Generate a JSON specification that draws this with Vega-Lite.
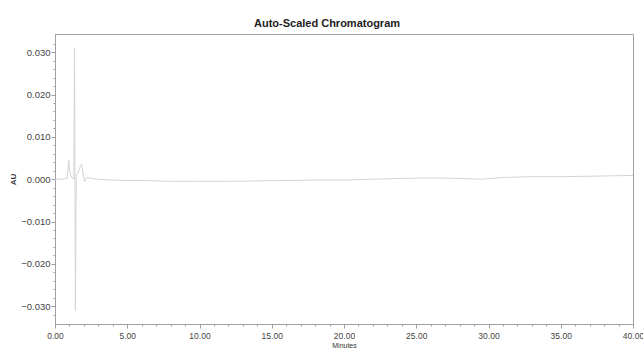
{
  "$schema": "https://vega.github.io/schema/vega-lite/v6.json",
  "width": 578,
  "height": 290,
  "autosize": {"type": "none"},
  "padding": {"left": 55, "top": 34, "right": 10, "bottom": 28},
  "background": "white",
  "title": {
    "text": "Auto-Scaled Chromatogram",
    "font": "Liberation Sans",
    "fontSize": 11,
    "fontWeight": "bold",
    "color": "#222",
    "anchor": "middle",
    "dx": -17,
    "offset": 5
  },
  "config": {
    "view": {"stroke": "#a0a0a0", "strokeWidth": 1},
    "axis": {
      "grid": false,
      "labelFont": "Liberation Sans",
      "titleFont": "Liberation Sans",
      "labelColor": "#444",
      "titleColor": "#333",
      "domainColor": "#a0a0a0",
      "tickColor": "#a0a0a0"
    }
  },
  "data": {
    "values": [
      {"t": 0, "au": 0},
      {"t": 0.5, "au": 0},
      {"t": 0.85, "au": 0.0002},
      {"t": 0.95, "au": 0.0045},
      {"t": 1.02, "au": 0.002},
      {"t": 1.12, "au": 0.0005},
      {"t": 1.3, "au": 0},
      {"t": 1.35, "au": 0.031},
      {"t": 1.41, "au": -0.031},
      {"t": 1.47, "au": 0.001},
      {"t": 1.6, "au": 0.0015},
      {"t": 1.75, "au": 0.003},
      {"t": 1.85, "au": 0.0035},
      {"t": 1.95, "au": 0.001},
      {"t": 2.05, "au": -0.0006},
      {"t": 2.2, "au": 0.0004},
      {"t": 2.5, "au": 0.0002},
      {"t": 3, "au": 0},
      {"t": 4, "au": -0.0002},
      {"t": 5, "au": -0.0003},
      {"t": 6, "au": -0.0003},
      {"t": 7, "au": -0.0004},
      {"t": 8, "au": -0.0005},
      {"t": 10, "au": -0.0005},
      {"t": 12, "au": -0.0005},
      {"t": 14, "au": -0.0004},
      {"t": 16, "au": -0.0003},
      {"t": 18, "au": -0.0002},
      {"t": 20, "au": -0.0002},
      {"t": 22, "au": 0},
      {"t": 24, "au": 0.0002},
      {"t": 26, "au": 0.0003},
      {"t": 28, "au": 0.0002},
      {"t": 29.5, "au": 0},
      {"t": 31, "au": 0.0004},
      {"t": 33, "au": 0.0006},
      {"t": 35, "au": 0.0006},
      {"t": 37, "au": 0.0007},
      {"t": 38.5, "au": 0.0008},
      {"t": 40, "au": 0.0009}
    ]
  },
  "layer": [
    {
      "mark": {"type": "line", "color": "#d4d4d4", "strokeWidth": 1, "clip": true},
      "encoding": {
        "x": {
          "field": "t", "type": "quantitative",
          "scale": {"domain": [0, 40], "nice": false, "zero": false},
          "axis": {
            "title": "Minutes", "titleFontSize": 7, "titleFontWeight": "normal", "titlePadding": 2,
            "values": [0, 5, 10, 15, 20, 25, 30, 35, 40],
            "format": ".2f", "labelFontSize": 8.5, "tickSize": 4, "labelPadding": 3,
            "labelFlush": false
          }
        },
        "y": {
          "field": "au", "type": "quantitative",
          "scale": {"domain": [-0.0342, 0.0343], "nice": false, "zero": false},
          "axis": {
            "title": "AU", "titleFontSize": 8, "titleFontWeight": "bold", "titlePadding": 3,
            "values": [-0.03, -0.02, -0.01, 0, 0.01, 0.02, 0.03],
            "format": ".3f", "labelFontSize": 9.5, "tickSize": 4, "labelPadding": 1
          }
        }
      }
    },
    {
      "mark": {"type": "line", "strokeOpacity": 0},
      "encoding": {
        "x": {
          "field": "t", "type": "quantitative",
          "axis": {
            "orient": "bottom", "labels": false, "title": null, "domain": false, "tickSize": 2,
            "values": [1,2,3,4,6,7,8,9,11,12,13,14,16,17,18,19,21,22,23,24,26,27,28,29,31,32,33,34,36,37,38,39]
          }
        },
        "y": {
          "field": "au", "type": "quantitative",
          "axis": {
            "orient": "left", "labels": false, "title": null, "domain": false, "tickSize": 2,
            "values": [-0.032,-0.028,-0.026,-0.024,-0.022,-0.018,-0.016,-0.014,-0.012,-0.008,-0.006,-0.004,-0.002,0.002,0.004,0.006,0.008,0.012,0.014,0.016,0.018,0.022,0.024,0.026,0.028,0.032]
          }
        }
      }
    }
  ],
  "resolve": {"axis": {"x": "independent", "y": "independent"}}
}
